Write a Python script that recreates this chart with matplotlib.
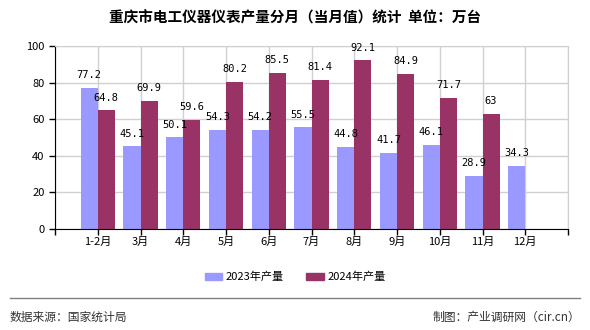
import matplotlib
matplotlib.use("Agg")
import matplotlib.pyplot as plt
import numpy as np
from matplotlib.patches import Patch
from matplotlib.lines import Line2D

plt.rcParams['font.family'] = ['Noto Sans CJK SC', 'DejaVu Sans']

categories = ['1-2月', '3月', '4月', '5月', '6月', '7月', '8月', '9月', '10月', '11月', '12月']
values_2023 = [77.2, 45.1, 50.1, 54.3, 54.2, 55.5, 44.8, 41.7, 46.1, 28.9, 34.3]
values_2024 = [64.8, 69.9, 59.6, 80.2, 85.5, 81.4, 92.1, 84.9, 71.7, 63, None]
labels_2024 = ['64.8', '69.9', '59.6', '80.2', '85.5', '81.4', '92.1', '84.9', '71.7', '63', '']
series_names = ['2023年产量', '2024年产量']
colors = ['#9999FF', '#993366']

fig = plt.figure(figsize=(5.9, 3.3), dpi=100)
ax = fig.add_axes([55/590, 1-229/330, (568-55)/590, (229-46)/330])

x = np.arange(len(categories))
w = 0.4
ax.bar(x - w/2, values_2023, width=w, color=colors[0], zorder=2)
v24 = [v if v is not None else 0 for v in values_2024]
ax.bar(x + w/2, v24, width=w, color=colors[1], zorder=2)

num_font = dict(family=['DejaVu Sans Mono'], fontsize=7.5, color='#000000')
for xi, v in zip(x, values_2023):
    ax.text(xi - w/2, v + 7, f'{v}', ha='center', va='center', **num_font)
for xi, v, lab in zip(x, values_2024, labels_2024):
    if v is not None:
        ax.text(xi + w/2, v + 7, lab, ha='center', va='center', **num_font)

ax.set_xlim(-1, len(categories))
ax.set_ylim(0, 100)
ax.set_yticks(range(0, 101, 20))
ax.set_xticks(np.arange(-1, len(categories) + 1))
ax.set_xticklabels([''] + categories + [''])
ax.tick_params(axis='both', labelsize=8, length=4, width=1, color='#000000')
ax.tick_params(axis='x', pad=2)
ax.grid(True, color='#D0D0D0', linewidth=1, zorder=0)
ax.set_axisbelow(True)
for s in ['top', 'right']:
    ax.spines[s].set_color('#D0D0D0')
for s in ['left', 'bottom']:
    ax.spines[s].set_color('#000000')

fig.text(0.5, 1-17/330, '重庆市电工仪器仪表产量分月（当月值）统计  单位：万台',
         ha='center', va='center', fontsize=10.5, fontweight='bold', color='#000000')

handles = [Patch(color=colors[0]), Patch(color=colors[1])]
fig.legend(handles, series_names, loc='center', bbox_to_anchor=(0.5, 1-277/330),
           ncol=2, frameon=False, fontsize=8, handlelength=1.6, handleheight=0.6,
           columnspacing=2.0, handletextpad=0.3)

fig.add_artist(Line2D([10/590, 580/590], [1-298/330, 1-298/330], color='#808080', linewidth=1))
fig.text(10/590, 1-317/330, '数据来源：国家统计局', ha='left', va='center', fontsize=8.5, color='#333333')
fig.text(580/590, 1-317/330, '制图：产业调研网（cir.cn）', ha='right', va='center', fontsize=8.5, color='#333333')

fig.savefig('out.png', dpi=100)
